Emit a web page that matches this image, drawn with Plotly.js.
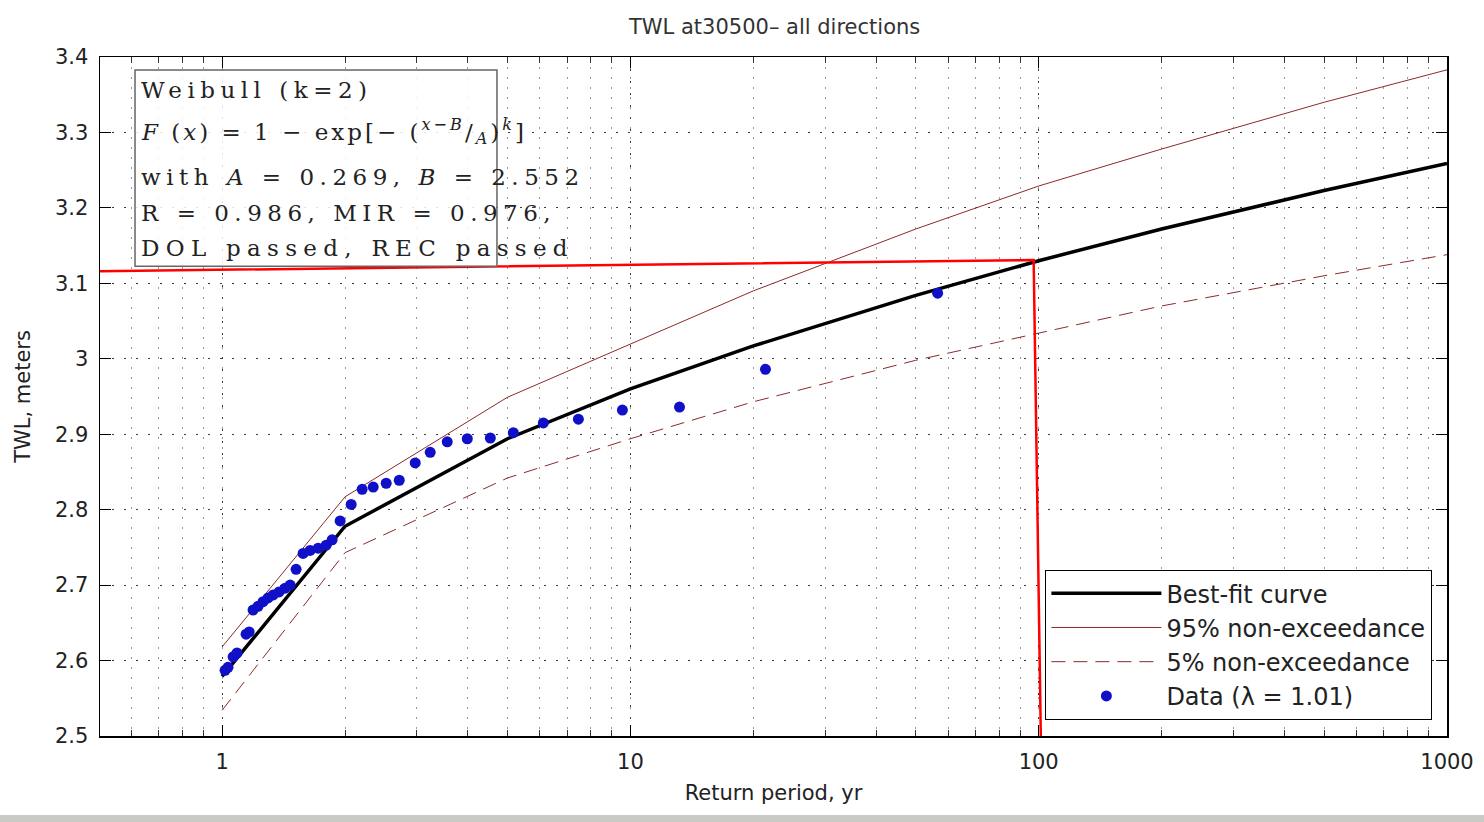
<!DOCTYPE html>
<html>
<head>
<meta charset="utf-8">
<script src="https://cdn.plot.ly/plotly-3.0.1.min.js"></script>
<style>
  html, body { margin: 0; padding: 0; background: #ffffff; }
  #chart { width: 1484px; height: 822px; }
</style>
</head>
<body>
<div id="chart"></div>
<script>
// ---- data ----
var returnPeriods = [1, 2, 5, 10, 20, 50, 100, 200, 500, 1000];
var bestFit      = [2.579, 2.778, 2.894, 2.960, 3.017, 3.084, 3.130, 3.172, 3.223, 3.259];
var upper95      = [2.618, 2.817, 2.949, 3.020, 3.090, 3.172, 3.229, 3.278, 3.340, 3.383];
var lower5       = [2.534, 2.743, 2.842, 2.894, 2.943, 2.998, 3.034, 3.070, 3.110, 3.138];

var dataPeriod = [1.017, 1.034, 1.064, 1.088, 1.145, 1.165, 1.191, 1.225, 1.260, 1.296,
                  1.334, 1.379, 1.427, 1.468, 1.518, 1.579, 1.643, 1.719, 1.799, 1.860,
                  1.946, 2.071, 2.203, 2.345, 2.523, 2.716, 2.972, 3.234, 3.560, 3.986,
                  4.539, 5.168, 6.121, 7.458, 9.559, 13.19, 21.42, 56.56];
var dataTWL    = [2.587, 2.591, 2.605, 2.610, 2.635, 2.638, 2.667, 2.672, 2.678, 2.683,
                  2.687, 2.691, 2.696, 2.700, 2.721, 2.742, 2.746, 2.749, 2.753, 2.760,
                  2.785, 2.807, 2.827, 2.830, 2.835, 2.839, 2.862, 2.876, 2.890, 2.894,
                  2.895, 2.902, 2.915, 2.920, 2.932, 2.936, 2.986, 3.087];

// hand-drawn red guide lines (100-yr level)
var guideX = [0.5, 97.2, 101.2];
var guideY = [3.116, 3.131, 2.5];

var xTickVals = [1, 10, 100, 1000];
var xTickText = ['1', '10', '100', '1000'];
var yTickVals = [2.5, 2.6, 2.7, 2.8, 2.9, 3.0, 3.1, 3.2, 3.3, 3.4];
var yTickText = ['2.5', '2.6', '2.7', '2.8', '2.9', '3', '3.1', '3.2', '3.3', '3.4'];

var boxLines = [
  'Weibull (k=2)',
  '<i>F</i> (<i>x</i>) = 1 − exp[− (<sup><i>x</i>−<i>B</i></sup>/<sub><i>A</i></sub>)<sup><i>k</i></sup>]',
  'with <i>A</i> = 0.269, <i>B</i> = 2.552',
  'R = 0.986, MIR = 0.976,',
  'DOL passed, REC passed'
];

var lineColor = '#8b2a2a';
var sansFont = 'DejaVu Sans, Liberation Sans, sans-serif';

var traces = [
  {x: returnPeriods, y: bestFit, mode: 'lines', name: 'Best-fit curve',
   line: {color: '#000000', width: 3.5}, legendgroup: 'a'},
  {x: returnPeriods, y: upper95, mode: 'lines', name: '95% non-exceedance',
   line: {color: lineColor, width: 1}, legendgroup: 'b'},
  {x: returnPeriods, y: lower5, mode: 'lines', name: '5% non-exceedance',
   line: {color: lineColor, width: 1, dash: '14px,8px'}, legendgroup: 'c'},
  {x: dataPeriod, y: dataTWL, mode: 'markers', name: 'Data (λ = 1.01)',
   marker: {color: '#1010c8', size: 11}, legendgroup: 'd'},
  {x: guideX, y: guideY, mode: 'lines', showlegend: false, hoverinfo: 'skip',
   line: {color: '#ff0000', width: 2.5}}
];

var boxY = [0.9514, 0.891, 0.823, 0.770, 0.7187];
var annotations = boxLines.map(function (t, i) {
  return {
    xref: 'paper', yref: 'paper', x: 0.029, y: boxY[i],
    xanchor: 'left', yanchor: 'middle', align: 'left', showarrow: false,
    text: t, font: {family: 'DejaVu Serif', size: 23, color: '#222'}
  };
});
var spacing = ['5.5px', '3px', '5.5px', '5.5px', '6.3px'];

var gridDark = '#3a3a3a';
var gridLight = '#9a9a9a';

var layout = {
  width: 1484, height: 822,
  margin: {l: 100, r: 37, t: 57, b: 86},
  paper_bgcolor: '#ffffff', plot_bgcolor: '#ffffff',
  font: {family: sansFont, size: 21, color: '#222'},
  title: {text: 'TWL at30500– all directions', x: 0.522, xanchor: 'center', y: 0.967, yanchor: 'middle',
          font: {family: sansFont, size: 21, color: '#333'}},
  showlegend: true,
  legend: {x: 0.989, y: 0.0236, xanchor: 'right', yanchor: 'bottom',
           bgcolor: '#ffffff', bordercolor: '#000000', borderwidth: 1.2,
           font: {family: sansFont, size: 24, color: '#222'}, itemwidth: 110, tracegroupgap: 3,
           traceorder: 'normal'},
  xaxis: {
    type: 'log', range: [-0.299, 3.0], tickvals: xTickVals, ticktext: xTickText,
    ticks: 'inside', ticklen: 11, tickcolor: '#000', mirror: 'ticks',
    showline: true, linecolor: '#000', linewidth: 1.5,
    showgrid: true, gridcolor: gridDark, gridwidth: 1, griddash: '2px,10px',
    tickfont: {family: sansFont, size: 21, color: '#222'}, ticklabelstandoff: 6,
    minor: {dtick: 'D1', ticks: 'inside', ticklen: 6, tickcolor: '#333',
            showgrid: true, gridcolor: gridLight, gridwidth: 1, griddash: '2px,8px'},
    title: {text: 'Return period, yr', standoff: 12, font: {family: sansFont, size: 21, color: '#222'}},
    zeroline: false
  },
  yaxis: {
    range: [2.5, 3.4], tickvals: yTickVals, ticktext: yTickText,
    ticks: 'inside', ticklen: 11, tickcolor: '#000', mirror: 'ticks',
    showline: true, linecolor: '#000', linewidth: 1.5,
    showgrid: true, gridcolor: gridDark, gridwidth: 1, griddash: '2px,10px',
    tickfont: {family: sansFont, size: 21, color: '#222'}, ticklabelstandoff: 6,
    title: {text: 'TWL, meters', standoff: 18, font: {family: sansFont, size: 21, color: '#222'}},
    zeroline: false
  },
  shapes: [
    {type: 'rect', xref: 'paper', yref: 'paper', x0: 0.026, x1: 0.2947, y0: 0.692, y1: 0.981,
     line: {color: '#666', width: 1.5}, fillcolor: 'rgba(255,255,255,0.85)', layer: 'above'},
    {type: 'rect', xref: 'paper', yref: 'paper', x0: -0.08, x1: 1.03, y0: -0.1267, y1: -0.1163,
     line: {width: 0}, fillcolor: '#c9c9c6'}
  ],
  annotations: annotations
};

Plotly.newPlot('chart', traces, layout, {displayModeBar: false, staticPlot: true}).then(function () {
  var nodes = document.querySelectorAll('#chart g.annotation text');
  nodes.forEach(function (n, i) { n.style.letterSpacing = spacing[i] || '4px'; });
});
</script>
</body>
</html>
